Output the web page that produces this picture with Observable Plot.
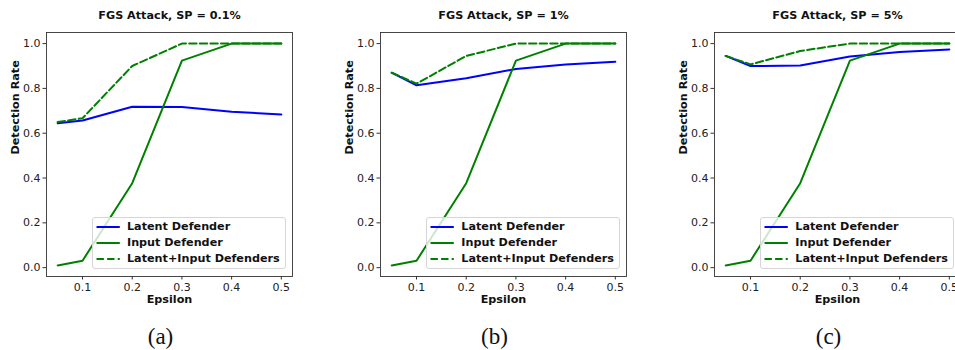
<!DOCTYPE html>
<html><head><meta charset="utf-8">
<script src="https://cdn.jsdelivr.net/npm/d3@7"></script>
<script src="https://cdn.jsdelivr.net/npm/@observablehq/plot@0.6"></script>
<style>
body{margin:0;background:#fff;}
#root{position:relative;width:955px;height:350px;overflow:hidden;background:#fff;font-family:"DejaVu Sans",sans-serif;}
.panel{position:absolute;top:0;width:320px;height:350px;}
.panel svg{display:block;}
.legend{position:absolute;left:91.7px;top:217.3px;width:194.3px;height:52px;box-sizing:border-box;border:1px solid #d6d6d6;border-radius:3px;background:rgba(255,255,255,0.8);}
.row{position:absolute;left:0;height:14px;width:100%;}
.row svg{position:absolute;left:3px;top:0;}
.row span{position:absolute;left:34.3px;top:0;line-height:14px;font-size:11.2px;font-weight:bold;color:#111;white-space:nowrap;}
</style>
</head><body><div id="root"></div>
<script>
const epsilon = [0.05, 0.1, 0.2, 0.3, 0.4, 0.5];
const xTicks = [0.1, 0.2, 0.3, 0.4, 0.5];
const yTicks = [0, 0.2, 0.4, 0.6, 0.8, 1.0];
const titles = ["FGS Attack, SP = 0.1%", "FGS Attack, SP = 1%", "FGS Attack, SP = 5%"];
const captions = ["(a)", "(b)", "(c)"];
const seriesNames = ["Latent Defender", "Input Defender", "Latent+Input Defenders"];

const latentSP01 = [0.645, 0.657, 0.718, 0.717, 0.696, 0.684];
const inputSP01 = [0.010, 0.031, 0.377, 0.924, 1.0, 1.0];
const combinedSP01 = [0.650, 0.667, 0.900, 1.0, 1.0, 1.0];

const latentSP1 = [0.870, 0.814, 0.845, 0.887, 0.907, 0.919];
const inputSP1 = [0.010, 0.031, 0.377, 0.924, 1.0, 1.0];
const combinedSP1 = [0.870, 0.821, 0.945, 1.0, 1.0, 1.0];

const latentSP5 = [0.945, 0.900, 0.902, 0.942, 0.962, 0.974];
const inputSP5 = [0.010, 0.031, 0.377, 0.924, 1.0, 1.0];
const combinedSP5 = [0.945, 0.907, 0.967, 1.0, 1.0, 1.0];

const panels = [
  [latentSP01, inputSP01, combinedSP01],
  [latentSP1, inputSP1, combinedSP1],
  [latentSP5, inputSP5, combinedSP5]
];
const styles = [
  {stroke: "#0000ff", dash: null},
  {stroke: "#008000", dash: null},
  {stroke: "#008000", dash: "7.4,3.2"}
];
const offsets = [0, 334.3, 668.3];

const root = document.getElementById("root");
panels.forEach((series, p) => {
  const div = document.createElement("div");
  div.className = "panel";
  div.style.left = offsets[p] + "px";
  const marks = [];
  series.forEach((vals, s) => {
    const rows = epsilon.map((e, i) => ({x: e, y: vals[i]}));
    marks.push(Plot.line(rows, {x: "x", y: "y", stroke: styles[s].stroke, strokeWidth: 2, strokeDasharray: styles[s].dash}));
  });
  marks.push(Plot.frame({stroke: "#333", strokeWidth: 0.9}));
  marks.push(Plot.axisX({ticks: xTicks, tickFormat: ".1f", tickSize: 3.5, tickPadding: 3, label: null, fontSize: 11, stroke: "#333"}));
  marks.push(Plot.axisY({ticks: yTicks, tickFormat: ".1f", tickSize: 3.5, tickPadding: 2.5, label: null, fontSize: 11, stroke: "#333"}));
  marks.push(Plot.text(["Epsilon"], {frameAnchor: "bottom", dy: 26, lineAnchor: "bottom", fontWeight: "bold", fontSize: 11.2, fill: "#111"}));
  marks.push(Plot.text(["Detection Rate"], {frameAnchor: "left", dx: -35, rotate: -90, lineAnchor: "top", fontWeight: "bold", fontSize: 11.2, fill: "#111"}));
  marks.push(Plot.text([titles[p]], {frameAnchor: "top", dy: -13.7, lineAnchor: "bottom", fontWeight: "bold", fontSize: 11.2, fill: "#111"}));
  marks.push(Plot.text([captions[p]], {frameAnchor: "bottom", dy: 67, dx: -9, lineAnchor: "bottom", fontFamily: "Liberation Serif", fontSize: 23, fill: "#111"}));
  const chart = Plot.plot({
    width: 320, height: 350,
    marginLeft: 46, marginRight: 28, marginTop: 32, marginBottom: 74,
    x: {domain: [0.0275, 0.5225]},
    y: {domain: [-0.0395, 1.0495]},
    style: {fontFamily: "DejaVu Sans", fontSize: "11px", color: "#222", background: "transparent"},
    marks
  });
  div.appendChild(chart);
  const leg = document.createElement("div");
  leg.className = "legend";
  const tops = [1.4, 18, 34];
  seriesNames.forEach((name, s) => {
    const r = document.createElement("div");
    r.className = "row";
    r.style.top = tops[s] + "px";
    const dash = styles[s].dash ? ` stroke-dasharray="${styles[s].dash}"` : "";
    r.innerHTML = `<svg width="24" height="14"><line x1="0.5" x2="23.8" y1="7" y2="7" stroke="${styles[s].stroke}" stroke-width="2"${dash}/></svg><span>${name}</span>`;
    leg.appendChild(r);
  });
  div.appendChild(leg);
  root.appendChild(div);
});
</script>
</body></html>
